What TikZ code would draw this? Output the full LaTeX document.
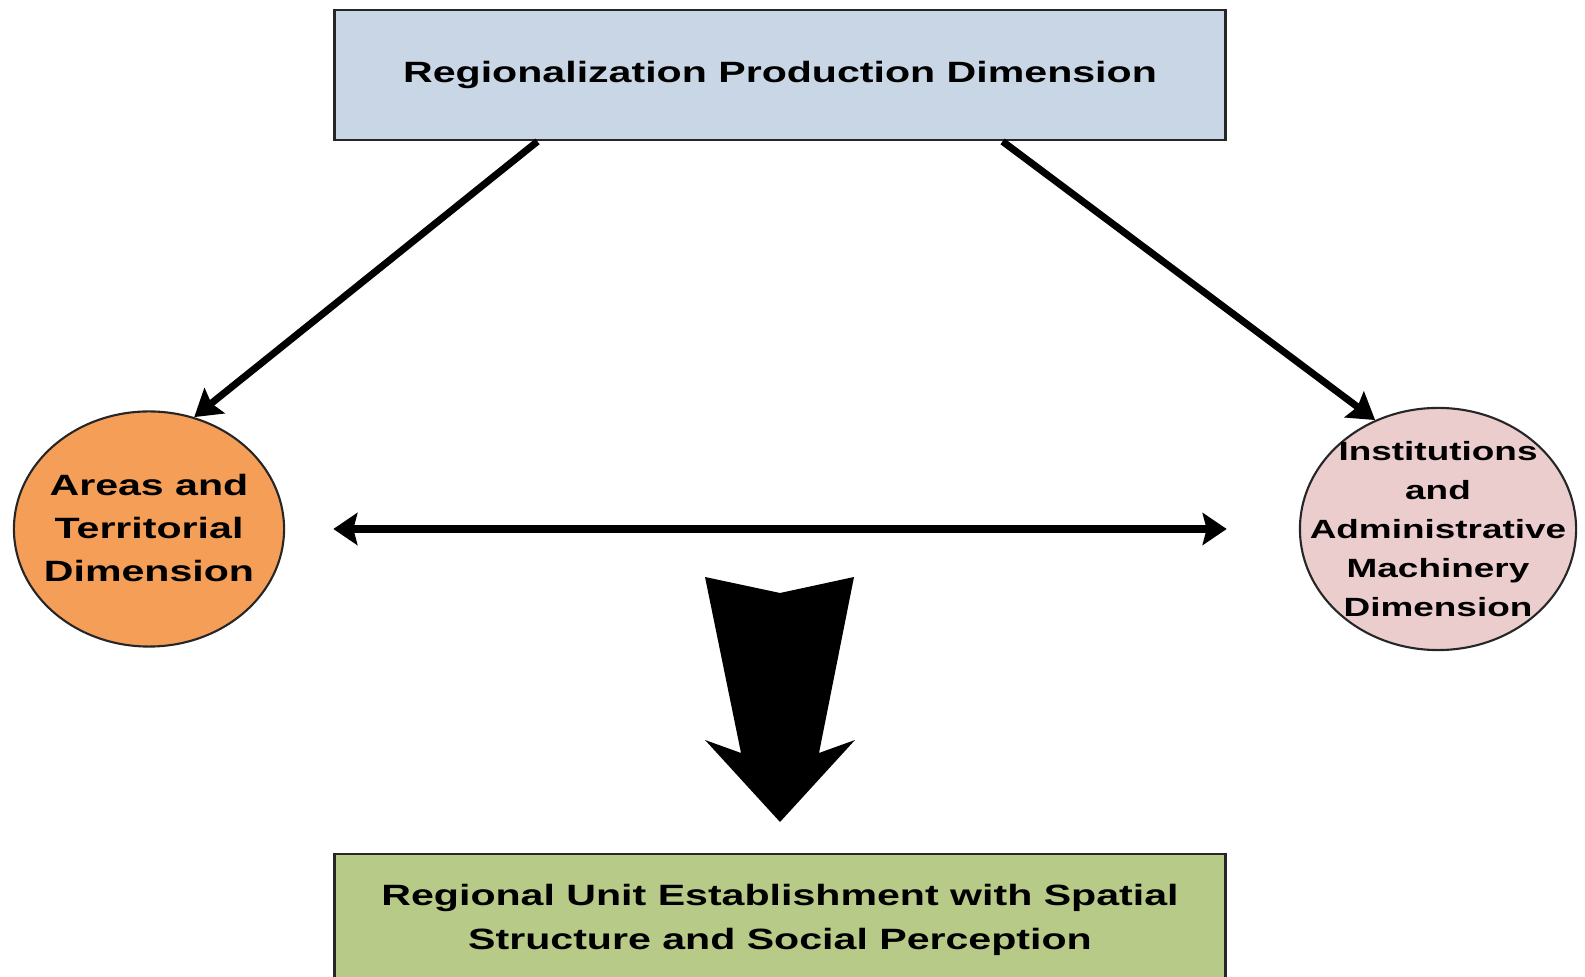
\documentclass[tikz,border=0pt]{standalone}
\usepackage{fontspec}
\setmainfont{Liberation Sans}[FakeStretch=1.4]
\usetikzlibrary{arrows.meta,positioning,shapes.geometric}

\definecolor{prodblue}{RGB}{201,214,229}
\definecolor{unitgreen}{RGB}{183,202,135}
\definecolor{areaorange}{RGB}{245,158,88}
\definecolor{instpink}{RGB}{236,205,205}

% text that does not grow the oval
\newcommand{\ovaltext}[1]{\makebox[0pt]{\smash{\raisebox{-2.3pt}{\begin{tabular}{@{}c@{}}#1\end{tabular}}}}}

\tikzset{
  dimbox/.style={draw=black!85, line width=0.8pt, minimum width=8.9cm, align=center,
    font=\bfseries\fontsize{8.35}{12.4}\selectfont},
  dimellipse/.style={draw=black!85, line width=0.6pt, ellipse, inner sep=0pt},
  flow/.style={line width=2pt, -{Stealth[length=0.26cm, width=0.32cm, inset=0.04cm]}}
}

\begin{document}
\begin{tikzpicture}[x=0.01cm, y=-0.01cm]
   \useasboundingbox (0,0) rectangle (1585,977);
   \clip (0,0) rectangle (1585,977);
   \node[dimbox, fill=prodblue, minimum height=1.3cm] (prod) at (780,75) {Regionalization Production Dimension};
   \node[dimbox, fill=unitgreen, minimum height=1.32cm] (unit) at (780,920) {Regional Unit Establishment with Spatial\\Structure and Social Perception};
   \node[dimellipse, fill=areaorange, minimum width=2.7cm, minimum height=2.35cm,
     font=\bfseries\fontsize{8.35}{12.2}\selectfont] (areas) at (149,529) {\ovaltext{Areas and\\Territorial\\Dimension}};
   \node[dimellipse, fill=instpink, minimum width=2.76cm, minimum height=2.42cm,
     font=\bfseries\fontsize{7.5}{11.1}\selectfont] (inst) at (1438,529) {\ovaltext{Institutions\\and\\Administrative\\Machinery\\Dimension}};

  \path[flow]
    ([xshift=2.04cm]prod.south west) edge (areas.68)
    ([xshift=-2.24cm]prod.south east) edge (inst.120);
  \draw[flow, line width=2.2pt, {Stealth[length=0.24cm, width=0.32cm, inset=0.04cm]}-{Stealth[length=0.24cm, width=0.32cm, inset=0.04cm]}]
    (prod.west |- areas) -- (prod.east |- inst);

  % big block arrow
  \fill[black] (705,577) -- (780,593) -- (854,577) -- (819,753) -- (855,740)
    -- (780,822) -- (705,740) -- (741,753) -- cycle;
\end{tikzpicture}
\end{document}
